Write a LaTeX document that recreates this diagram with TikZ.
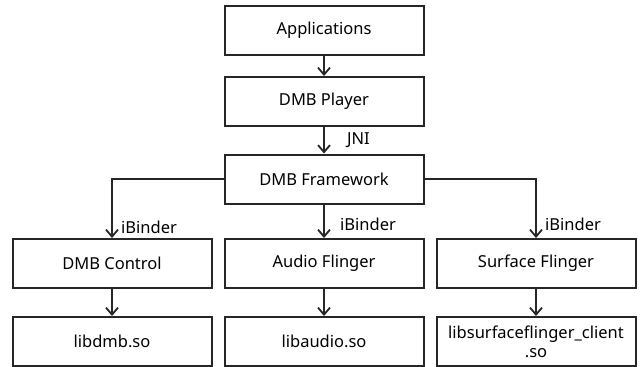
\documentclass[tikz,border=0pt]{standalone}
\usepackage{fontspec}
\setmainfont{Noto Sans}
\usetikzlibrary{arrows.meta}
\begin{document}
\begin{tikzpicture}[x=1pt,y=-1pt,
  box/.style={draw=black!85,line width=2pt,minimum width=199pt,minimum height=49pt,
    inner sep=0pt,font=\fontsize{16.5}{19}\selectfont,align=center},
  link/.style={draw=black!85,line width=2pt,-{Straight Barb[length=7pt,width=12pt,line width=1.8pt]}},
  lbl/.style={font=\fontsize{16.5}{19}\selectfont,inner sep=0pt}]
\useasboundingbox (0,0) rectangle (641,367);
% upper column
\node[box] (app) at (324,30) {Applications};
\node[box] (player) at (324,101.5) {DMB Player};
\node[box] (fw) at (324,179) {DMB Framework};
% service row
\node[box] (ctrl) at (112,263.5) {DMB Control};
\node[box] (audio) at (324,263.5) {Audio Flinger};
\node[box] (surf) at (536,263.5) {Surface Flinger};
% library row
\node[box] (libdmb) at (112,341.5) {libdmb.so};
\node[box] (libaudio) at (324,341.5) {libaudio.so};
\node[box] (libsurf) at (536,341.5) {libsurfaceflinger\_client\\.so};
% connectors
\draw[link] (app) -- (player);
\draw[link] (player) -- (fw);
\draw[link] (fw.west) -| (ctrl.north);
\draw[link] (fw) -- (audio);
\draw[link] (fw.east) -| (surf.north);
\draw[link] (ctrl) -- (libdmb);
\draw[link] (audio) -- (libaudio);
\draw[link] (surf) -- (libsurf);
% connector labels
\node[lbl,anchor=west] (jni) at (347,140) {JNI};
\node[lbl,anchor=west] (ib1) at (121,227) {iBinder};
\node[lbl,anchor=west] (ib2) at (340,224) {iBinder};
\node[lbl,anchor=west] (ib3) at (545,224) {iBinder};
\end{tikzpicture}
\end{document}
